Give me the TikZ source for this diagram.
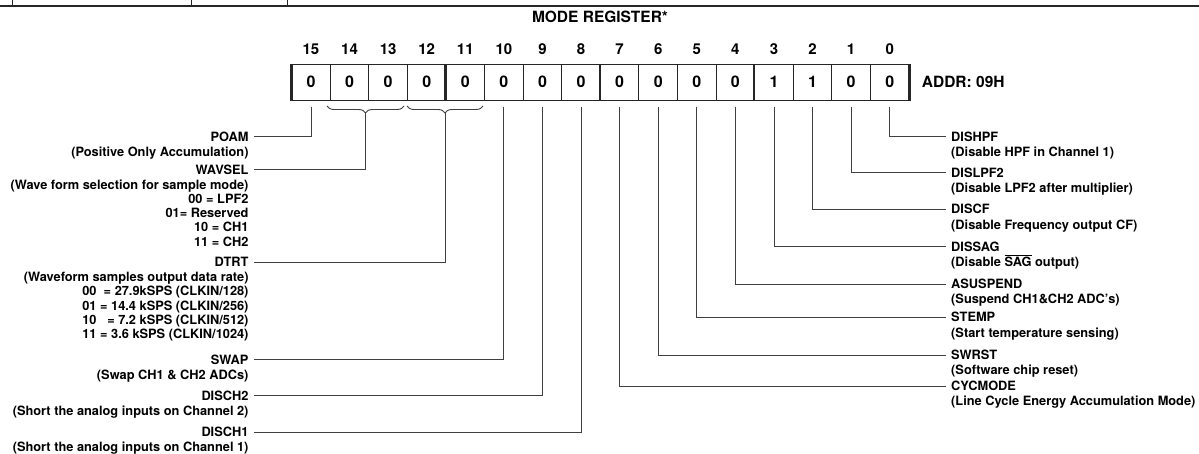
\documentclass[tikz,border=0pt]{standalone}
\usepackage{fontspec}
\setmainfont{TeX Gyre Heros}
\usetikzlibrary{decorations.pathreplacing}

\begin{document}
\begin{tikzpicture}[x=1pt, y=-1pt,
    cell/.style={draw=black!85, line width=1pt, minimum width=38.58pt, minimum height=35.8pt,
        inner sep=0pt, font=\bfseries\fontsize{16}{18}\selectfont},
    bitnum/.style={inner sep=0pt, font=\bfseries\fontsize{15}{17}\selectfont},
    fieldname/.style={inner xsep=5pt, inner ysep=0pt, text height=9.2pt, text depth=0pt,
        font=\bfseries\fontsize{12.8}{14.2}\selectfont},
    descl/.style={inner xsep=5pt, inner ysep=0pt, align=right, anchor=north east, yshift=-5.3pt,
        font=\bfseries\fontsize{12.8}{14.2}\selectfont},
    descr/.style={inner xsep=5pt, inner ysep=0pt, align=left, anchor=north west, yshift=-5.3pt,
        font=\bfseries\fontsize{12.8}{14.2}\selectfont},
    lead/.style={draw=black!75, line width=0.9pt},
    thicksep/.style={draw=black!85, line width=2.6pt}]
    \useasboundingbox (0,0) rectangle (1199,454);

    % Table edge at the top
    \draw[line width=2.3pt, black!85] (0,5.7) -- (1199,5.7);
    \draw[line width=1pt, black!85] (12.7,0) -- (12.7,5.7);
    \draw[line width=1pt, black!85] (191.7,0) -- (191.7,5.7);
    \draw[line width=1pt, black!85] (287.5,0) -- (287.5,5.7);

    % Title and address
    \node[inner sep=0pt, font=\bfseries\fontsize{15.5}{17}\selectfont] (title) at (600,17) {MODE REGISTER*};

    % Register cells and bit numbers
    \foreach \v [count=\i from 0] in {0,0,0,0,0,0,0,0,0,0,0,0,1,1,0,0} {
        \pgfmathsetmacro\cx{291.7+(\i+0.5)*38.58}
        \pgfmathtruncatemacro\b{15-\i}
        \node[cell] (b\b) at (\cx,82.2) {\v};
        \node[bitnum] (n\b) at (\cx,49.3) {\b};
    }
    \draw[thicksep] (b15.north west) -- (b15.south west);
    \draw[thicksep] (b11.north west) -- (b11.south west);
    \draw[thicksep] (b7.north west) -- (b7.south west);
    \draw[thicksep] (b3.north west) -- (b3.south west);
    \draw[thicksep] (b0.north east) -- (b0.south east);
    \node[inner sep=0pt, anchor=west, font=\bfseries\fontsize{15.5}{17}\selectfont] (addr) at (921.7,82.2) {ADDR: 09H};

    % Braces for the two-bit fields
    \draw[lead, decorate, decoration={brace, mirror, amplitude=7pt}] (327,106) -- (404,106);
    \draw[lead, decorate, decoration={brace, mirror, amplitude=7pt}] (407,106) -- (483,106);
    \coordinate (wavtip) at (365.5,113);
    \coordinate (dtrtip) at (445,113);

    % Left side fields
    \node[fieldname, anchor=east] (poam) at (253.7,136.5) {POAM};
    \node[descl] (poamd) at (poam.south east) {(Positive Only Accumulation)};
    \node[fieldname, anchor=east] (wavsel) at (253.7,169.5) {WAVSEL};
    \node[descl] (wavseld) at (wavsel.south east) {(Wave form selection for sample mode)\\
        00 = LPF2\\ 01= Reserved\\ 10 = CH1\\ 11 = CH2};
    \node[fieldname, anchor=east] (dtrt) at (253.7,262) {DTRT};
    \node[descl] (dtrtd) at (dtrt.south east) {(Waveform samples output data rate)\\
        00\ \ = 27.9kSPS (CLKIN/128)\\ 01 = 14.4 kSPS (CLKIN/256)\\
        10\ \ \ = 7.2 kSPS (CLKIN/512)\\ 11 = 3.6 kSPS (CLKIN/1024)};
    \node[fieldname, anchor=east] (swap) at (253.7,359.5) {SWAP};
    \node[descl] (swapd) at (swap.south east) {(Swap CH1 \& CH2 ADCs)};
    \node[fieldname, anchor=east] (disch2) at (253.7,395.5) {DISCH2};
    \node[descl] (disch2d) at (disch2.south east) {(Short the analog inputs on Channel 2)};
    \node[fieldname, anchor=east] (disch1) at (253.7,432) {DISCH1};
    \node[descl] (disch1d) at (disch1.south east) {(Short the analog inputs on Channel 1)};

    % Right side fields
    \node[fieldname, anchor=west] (dishpf) at (946,136.5) {DISHPF};
    \node[descr] (dishpfd) at (dishpf.south west) {(Disable HPF in Channel 1)};
    \node[fieldname, anchor=west] (dislpf) at (946,172.7) {DISLPF2};
    \node[descr] (dislpfd) at (dislpf.south west) {(Disable LPF2 after multiplier)};
    \node[fieldname, anchor=west] (discf) at (946,209.3) {DISCF};
    \node[descr] (discfd) at (discf.south west) {(Disable Frequency output CF)};
    \node[fieldname, anchor=west] (dissag) at (946,246.7) {DISSAG};
    \node[descr] (dissagd) at (dissag.south west) {(Disable $\smash{\overline{\mbox{SAG}}}$ output)};
    \node[fieldname, anchor=west] (asusp) at (946,284) {ASUSPEND};
    \node[descr] (asuspd) at (asusp.south west) {(Suspend CH1\&CH2 ADC’s)};
    \node[fieldname, anchor=west] (stemp) at (946,317.3) {STEMP};
    \node[descr] (stempd) at (stemp.south west) {(Start temperature sensing)};
    \node[fieldname, anchor=west] (swrst) at (946,355) {SWRST};
    \node[descr] (swrstd) at (swrst.south west) {(Software chip reset)};
    \node[fieldname, anchor=west] (cycmode) at (946,386) {CYCMODE};
    \node[descr] (cycmoded) at (cycmode.south west) {(Line Cycle Energy Accumulation Mode)};

    % Leader lines
    \draw[lead] ([yshift=-6pt]b15.south) |- (poam.east);
    \draw[lead] (wavtip) |- (wavsel.east);
    \draw[lead] (dtrtip) |- (dtrt.east);
    \draw[lead] ([yshift=-6pt]b10.south) |- (swap.east);
    \draw[lead] ([yshift=-6pt]b9.south) |- (disch2.east);
    \draw[lead] ([yshift=-6pt]b8.south) |- (disch1.east);
    \draw[lead] ([yshift=-6pt]b7.south) |- (cycmode.west);
    \draw[lead] ([yshift=-6pt]b6.south) |- (swrst.west);
    \draw[lead] ([yshift=-6pt]b5.south) |- (stemp.west);
    \draw[lead] ([yshift=-6pt]b4.south) |- (asusp.west);
    \draw[lead] ([yshift=-6pt]b3.south) |- (dissag.west);
    \draw[lead] ([yshift=-6pt]b2.south) |- (discf.west);
    \draw[lead] ([yshift=-6pt]b1.south) |- (dislpf.west);
    \draw[lead] ([yshift=-6pt]b0.south) |- (dishpf.west);
\end{tikzpicture}
\end{document}
